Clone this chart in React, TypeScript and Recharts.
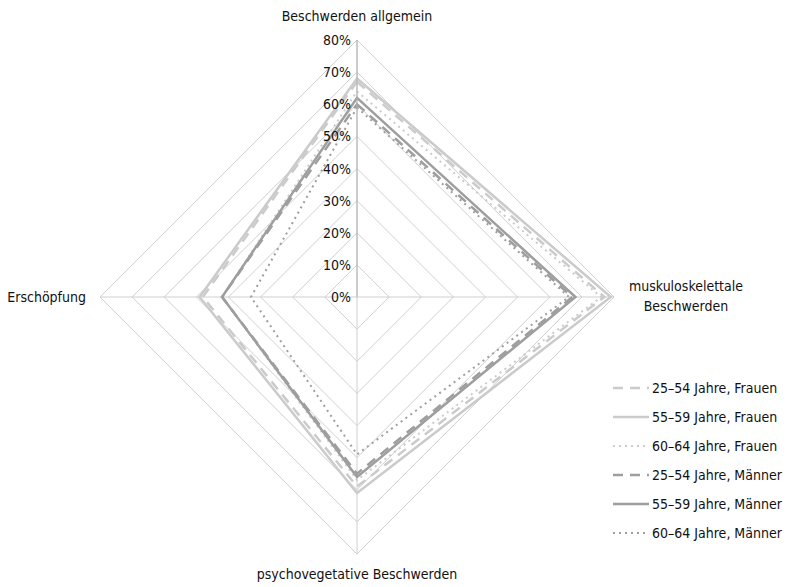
import { PolarAngleAxis, PolarGrid, PolarRadiusAxis, Radar, RadarChart } from 'recharts';

const categories = [
  'Beschwerden allgemein',
  'muskuloskelettale Beschwerden',
  'psychovegetative Beschwerden',
  'Erschöpfung',
];

const frauen2554 = [67, 77, 59, 48];
const frauen5559 = [68, 79, 61, 49];
const frauen6064 = [64, 76, 57, 42];
const maenner2554 = [60, 67, 55, 42];
const maenner5559 = [62, 68, 56, 42];
const maenner6064 = [59, 66, 49, 33];

const radiusTicks = [0, 10, 20, 30, 40, 50, 60, 70, 80];

const SERIES = [
  { key: 'f2554', name: '25–54 Jahre, Frauen', values: frauen2554, color: '#cbcbcb', dash: '10 7', width: 2.5 },
  { key: 'f5559', name: '55–59 Jahre, Frauen', values: frauen5559, color: '#cbcbcb', dash: undefined, width: 2.5 },
  { key: 'f6064', name: '60–64 Jahre, Frauen', values: frauen6064, color: '#cbcbcb', dash: '2 4', width: 2 },
  { key: 'm2554', name: '25–54 Jahre, Männer', values: maenner2554, color: '#9e9e9e', dash: '10 7', width: 2.5 },
  { key: 'm5559', name: '55–59 Jahre, Männer', values: maenner5559, color: '#9e9e9e', dash: undefined, width: 2.5 },
  { key: 'm6064', name: '60–64 Jahre, Männer', values: maenner6064, color: '#9e9e9e', dash: '2 4', width: 2 },
];

const data = categories.map((label, i) => {
  const row: Record<string, string | number> = { label };
  SERIES.forEach((s) => {
    row[s.key] = s.values[i];
  });
  return row;
});

const FONT = "'DejaVu Sans Condensed', 'Liberation Sans Narrow', sans-serif";

function AngleTick(props: any) {
  const { x, y, payload, index } = props;
  const common = { fontFamily: FONT, fontSize: 14, fill: '#111' };
  if (index === 0) {
    return <text x={x} y={y - 11} textAnchor="middle" {...common}>{payload.value}</text>;
  }
  if (index === 1) {
    return (
      <text x={x + 64} y={y} textAnchor="middle" {...common}>
        <tspan x={x + 64} dy={-6}>muskuloskelettale</tspan>
        <tspan x={x + 64} dy={20}>Beschwerden</tspan>
      </text>
    );
  }
  if (index === 2) {
    return <text x={x} y={y + 17} textAnchor="middle" {...common}>{payload.value}</text>;
  }
  return <text x={x - 6} y={y + 5} textAnchor="end" {...common}>{payload.value}</text>;
}

function RadiusTick(props: any) {
  const { x, y, payload } = props;
  return (
    <text x={x - 6} y={y + 5} textAnchor="end" fontFamily={FONT} fontSize={14} fill="#111">
      {payload.value}%
    </text>
  );
}

function LegendBox() {
  return (
    <div style={{ position: 'absolute', left: 613, top: 373, fontFamily: FONT, fontSize: 14, color: '#111' }}>
      {SERIES.map((s) => (
        <div key={s.key} style={{ display: 'flex', alignItems: 'center', height: 29 }}>
          <svg width={36} height={10} style={{ marginRight: 3 }}>
            <line x1={0} y1={5} x2={36} y2={5} stroke={s.color} strokeWidth={s.width} strokeDasharray={s.dash} />
          </svg>
          <span>{s.name}</span>
        </div>
      ))}
    </div>
  );
}

export default function App() {
  return (
    <div style={{ position: 'absolute', left: 0, top: 0, width: 790, height: 587, background: '#fff' }}>
      <RadarChart width={790} height={587} data={data} cx={357} cy={297} outerRadius={257}>
        <PolarGrid gridType="polygon" stroke="#cfcfcf" strokeWidth={1} />
        <PolarAngleAxis dataKey="label" tick={AngleTick} tickLine={false} axisLine={false} />
        <PolarRadiusAxis
          angle={90}
          domain={[0, 80]}
          ticks={radiusTicks as any}
          tickCount={9}
          tick={RadiusTick}
          axisLine={{ stroke: '#b0b0b0' }}
          tickLine={false}
        />
        {SERIES.map((s) => (
          <Radar
            key={s.key}
            name={s.name}
            dataKey={s.key}
            stroke={s.color}
            strokeWidth={s.width}
            strokeDasharray={s.dash}
            fill="none"
            fillOpacity={0}
            dot={false}
            isAnimationActive={false}
          />
        ))}
      </RadarChart>
      <LegendBox />
    </div>
  );
}
